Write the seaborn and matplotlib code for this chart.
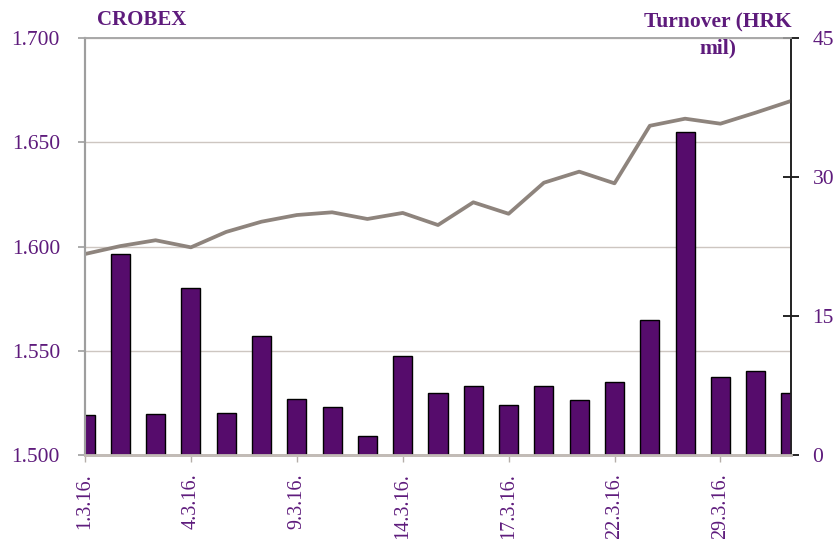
import numpy as np
import pandas as pd
import matplotlib
matplotlib.use("Agg")
import matplotlib.pyplot as plt
import seaborn as sns
from matplotlib.ticker import FuncFormatter, FixedLocator

# trading days, March 2016
dates = ['1.3.16.', '2.3.16.', '3.3.16.', '4.3.16.', '7.3.16.', '8.3.16.', '9.3.16.',
         '10.3.16.', '11.3.16.', '14.3.16.', '15.3.16.', '16.3.16.', '17.3.16.', '18.3.16.',
         '21.3.16.', '22.3.16.', '23.3.16.', '24.3.16.', '29.3.16.', '30.3.16.', '31.3.16.']
crobex = [1596.4, 1600.2, 1603.0, 1599.6, 1607.0, 1611.9, 1615.1, 1616.4, 1613.2, 1616.1,
          1610.3, 1621.2, 1615.7, 1630.6, 1635.9, 1630.3, 1657.9, 1661.3, 1658.9, 1664.2, 1669.8]
turnover = [4.3, 21.7, 4.45, 18.0, 4.5, 12.8, 6.05, 5.15, 2.1, 10.7, 6.7,
            7.4, 5.35, 7.5, 5.9, 7.85, 14.6, 34.9, 8.45, 9.05, 6.65]
shown_dates = ['1.3.16.', '4.3.16.', '9.3.16.', '14.3.16.', '17.3.16.', '22.3.16.', '29.3.16.']

df = pd.DataFrame({'date': dates, 'crobex': crobex, 'turnover': turnover})
df['pos'] = np.arange(len(df))

PURPLE_TXT = '#5E1B7C'
BAR = '#560C6C'
LINE = '#8E847D'
GRID = '#CDC6C1'

sns.set_style('white')
plt.rcParams['font.family'] = ['Liberation Serif', 'DejaVu Serif']

fig = plt.figure(figsize=(8.37, 5.39), dpi=100)
ax = fig.add_axes([85/837, 1-455/539, (791-85)/837, (455-38)/539])
ax2 = ax.twinx()

# line on left axis (CROBEX)
sns.lineplot(data=df, x='pos', y='crobex', ax=ax, color=LINE, lw=2.7, zorder=3)
ax.set_ylim(1500, 1700)
ax.yaxis.set_major_locator(FixedLocator([1500, 1550, 1600, 1650, 1700]))
ax.yaxis.set_major_formatter(FuncFormatter(lambda v, p: f"{v/1000:.3f}"))
ax.grid(axis='y', color=GRID, lw=1.0)
ax.grid(axis='x', visible=False)

# bars on right axis (turnover)
sns.barplot(data=df, x='date', y='turnover', ax=ax2, color=BAR, saturation=1,
            width=0.54, edgecolor='black', linewidth=1.0, zorder=2)
ax2.set_ylim(0, 45)
ax2.yaxis.set_major_locator(FixedLocator([0, 15, 30, 45]))
ax2.grid(False)

ax.set_xlim(0, len(dates) - 1)
ax2.set_xlim(0, len(dates) - 1)
tick_pos = [dates.index(d) for d in shown_dates]
ax2.set_xticks(tick_pos)
ax2.set_xticklabels(shown_dates)
ax.set_xticks(tick_pos)
ax.set_xticklabels(shown_dates, rotation=90, color=PURPLE_TXT, fontsize=14.5)

ax.set_xlabel(''); ax.set_ylabel('')
ax2.set_xlabel(''); ax2.set_ylabel('')

# spines
for a in (ax, ax2):
    a.spines['top'].set_color('#A8A8A8')
    a.spines['top'].set_linewidth(1.2)
    a.spines['left'].set_color('#9E9E9E')
    a.spines['left'].set_linewidth(1.5)
    a.spines['bottom'].set_color('#C2BBB6')
    a.spines['bottom'].set_linewidth(2.0)
    a.spines['right'].set_color('#222222')
    a.spines['right'].set_linewidth(1.2)

ax.tick_params(axis='y', left=True, direction='out', length=5, width=1.2, color='#9E9E9E',
               labelsize=15.5, labelcolor=PURPLE_TXT, pad=13)
ax.tick_params(axis='x', bottom=True, direction='inout', length=10, width=1.0, color='#B5AEA9',
               pad=8)
ax2.tick_params(axis='y', right=True, direction='inout', length=11, width=1.2, color='black',
                labelsize=15.5, labelcolor=PURPLE_TXT, pad=10)
ax2.tick_params(axis='x', bottom=False, labelbottom=False)

fig.text(97/837, 1-20/539, 'CROBEX', color=PURPLE_TXT, fontsize=15, fontweight='bold',
         ha='left', va='center')
fig.text(718/837, 1-12/539, 'Turnover (HRK\nmil)', color=PURPLE_TXT, fontsize=15.5,
         fontweight='bold', ha='center', va='top', linespacing=1.4)

fig.savefig('out.png', dpi=100)
